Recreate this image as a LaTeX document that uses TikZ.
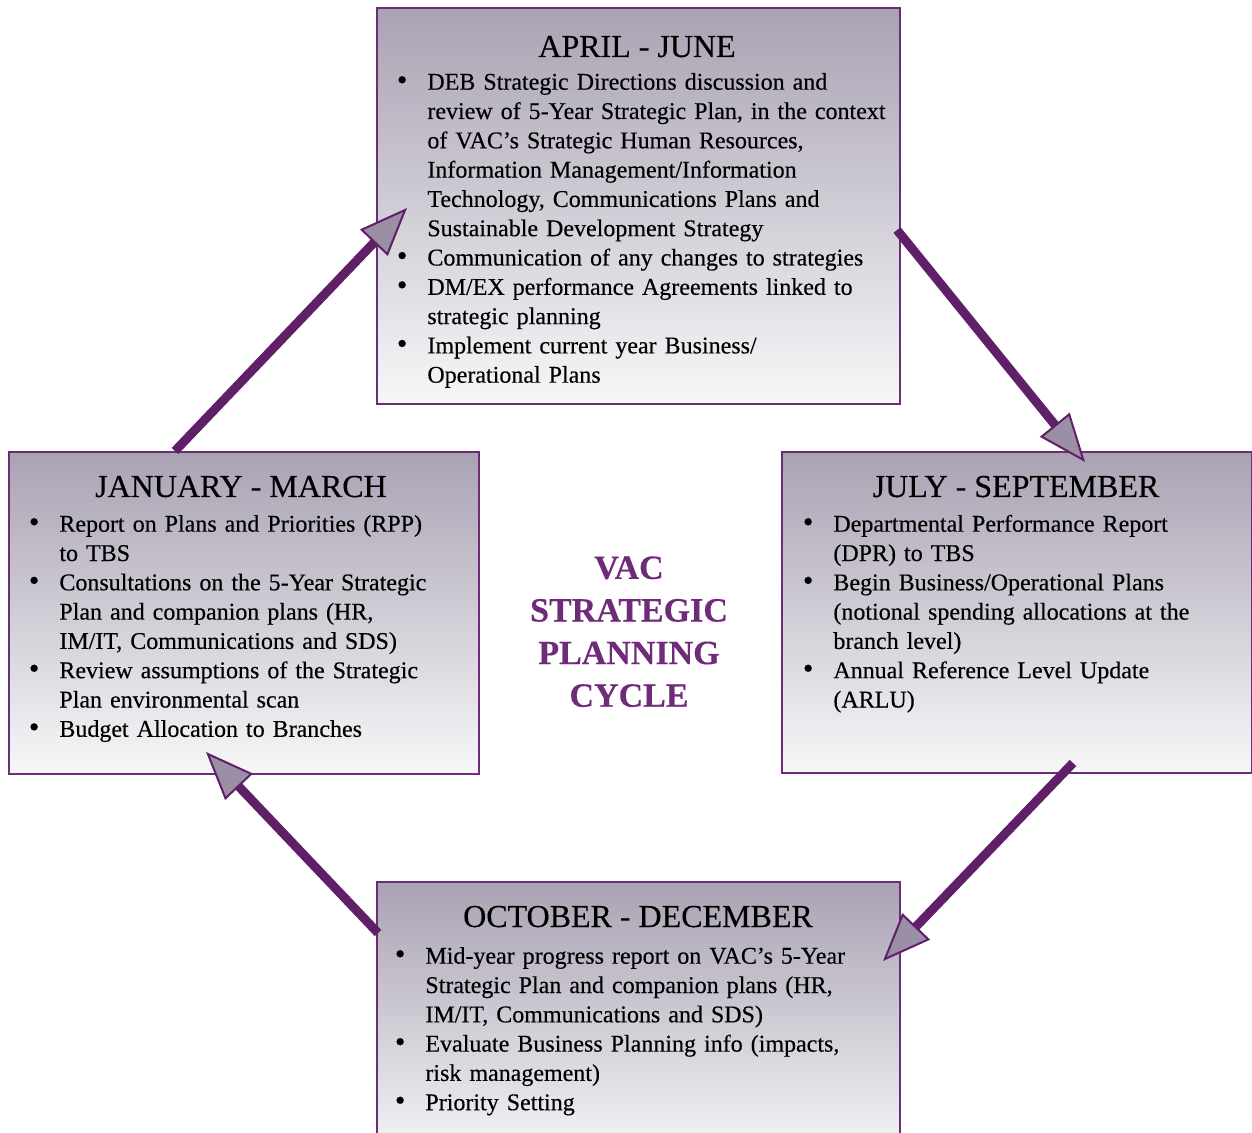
\documentclass[tikz,border=0pt]{standalone}
\usepackage{fontspec}
\setmainfont{Liberation Serif}[FakeBold=0.35]
\usetikzlibrary{arrows.meta}
\definecolor{vborder}{HTML}{6B2D78}
\definecolor{vline}{HTML}{5F2068}
\definecolor{vhead}{HTML}{9A8FA4}
\definecolor{vtop}{HTML}{A9A2B3}
\definecolor{vbot}{HTML}{F7F7F8}
\definecolor{vtext}{HTML}{6E2C78}
\newcommand\bigbul{\makebox[0pt][r]{\smash{\fontsize{15pt}{0pt}\selectfont\textbullet}}}
\newenvironment{blist}{\begin{list}{\bigbul}{\setlength\leftmargin{15pt}\setlength\labelsep{10pt}\setlength\labelwidth{0pt}\setlength\itemsep{0pt}\setlength\parsep{0pt}\setlength\topsep{0pt}\setlength\partopsep{0pt}}}{\end{list}}
\tikzset{
 box/.style={draw=vborder, line width=1.2pt, top color=vtop, bottom color=vbot, inner sep=0pt, anchor=north west},
 heading/.style={font=\fontsize{16pt}{19pt}\selectfont, anchor=base, inner sep=0pt},
 items/.style={anchor=north west, inner sep=0pt, text width=300pt, align=left, font=\fontsize{12pt}{14.65pt}\selectfont},
 flow/.style={draw=vline, line width=4.5pt, -{Triangle[length=24pt,width=19pt,line width=1pt,fill=vhead]}},
 center/.style={font=\fontsize{17pt}{21.3pt}\selectfont\bfseries, text=vtext, align=center, anchor=north, inner sep=0pt}
}
\begin{document}
\begin{tikzpicture}[x=0.5pt,y=-0.5pt]
\useasboundingbox (0,0) rectangle (1252,1133);
\clip (0,0) rectangle (1252,1133);
% boxes
\node[box, minimum width=261.5pt, minimum height=198pt] (aj) at (376,7) {};
\node[box, minimum width=235pt, minimum height=161pt] (jm) at (8,451) {};
\node[box, minimum width=235pt, minimum height=160.5pt] (js) at (781,451) {};
\node[box, minimum width=261.5pt, minimum height=140pt] (od) at (376,881) {};
% headings
\node[heading] (h1) at (637,57) {APRIL - JUNE};
\node[heading] (h2) at (241,497) {JANUARY - MARCH};
\node[heading] (h3) at (1016,497) {JULY - SEPTEMBER};
\node[heading] (h4) at (638,927) {OCTOBER - DECEMBER};
% lists
\node[items] (l1) at (397,60) {\begin{blist}
\item DEB Strategic Directions discussion and\\ review of 5-Year Strategic Plan, in the context\\ of VAC’s Strategic Human Resources,\\ Information Management/Information\\ Technology, Communications Plans and\\ Sustainable Development Strategy
\item Communication of any changes to strategies
\item DM/EX performance Agreements linked to\\ strategic planning
\item Implement current year Business/\\ Operational Plans
\end{blist}};
\node[items] (l2) at (29,502) {\begin{blist}
\item Report on Plans and Priorities (RPP)\\ to TBS
\item Consultations on the 5-Year Strategic\\ Plan and companion plans (HR,\\ IM/IT, Communications and SDS)
\item Review assumptions of the Strategic\\ Plan environmental scan
\item Budget Allocation to Branches
\end{blist}};
\node[items] (l3) at (803,502) {\begin{blist}
\item Departmental Performance Report\\ (DPR) to TBS
\item Begin Business/Operational Plans\\ (notional spending allocations at the\\ branch level)
\item Annual Reference Level Update\\ (ARLU)
\end{blist}};
\node[items] (l4) at (395,934) {\begin{blist}
\item Mid-year progress report on VAC’s 5-Year\\ Strategic Plan and companion plans (HR,\\ IM/IT, Communications and SDS)
\item Evaluate Business Planning info (impacts,\\ risk management)
\item Priority Setting
\end{blist}};
% centre
\node[center] (title) at (629,556) {VAC\\ STRATEGIC\\ PLANNING\\ CYCLE};
% arrows
\coordinate (s1) at (175,451); \coordinate (t1) at (407,208);
\coordinate (s2) at (897,230); \coordinate (t2) at (1085,462);
\coordinate (s3) at (1073,763); \coordinate (t3) at (883,961);
\coordinate (s4) at (378,933); \coordinate (t4) at (206,752);
\draw[flow] (s1) -- (t1);
\draw[flow] (s2) -- (t2);
\draw[flow] (s3) -- (t3);
\draw[flow] (s4) -- (t4);
\end{tikzpicture}
\end{document}
